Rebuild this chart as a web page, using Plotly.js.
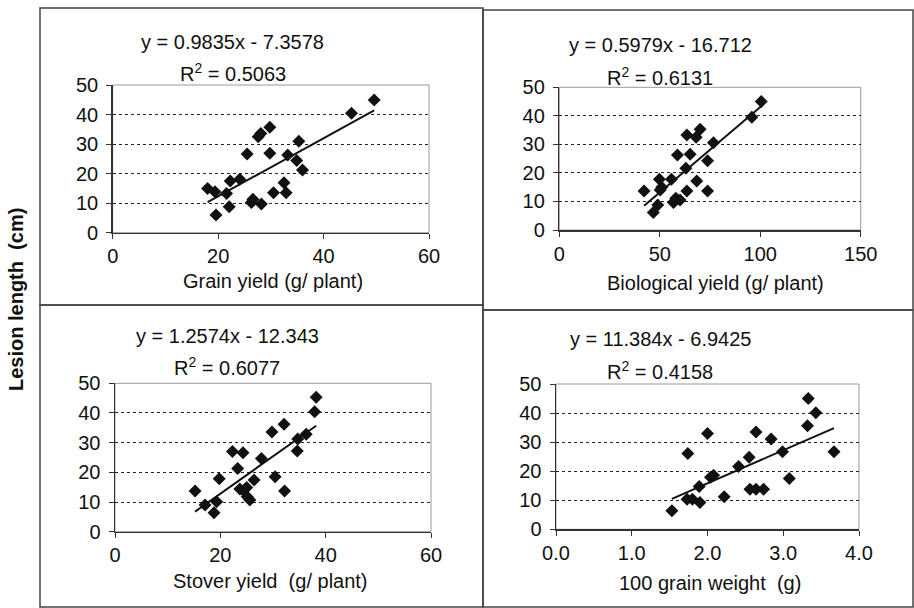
<!DOCTYPE html>
<html><head><meta charset="utf-8">
<script src="https://cdn.plot.ly/plotly-3.0.1.min.js"></script>
<style>html,body{margin:0;padding:0;background:#fff}#chart{width:914px;height:608px}</style>
</head><body><div id="chart"></div>
<script>
// Panel 1: Grain yield
const grainX = [18.0,19.4,19.6,21.6,22.3,22.1,24.1,25.5,26.6,26.3,27.6,28.1,28.2,29.8,29.8,30.5,32.5,32.9,33.2,34.9,35.3,36.0,45.3,49.6];
const grainY = [15.0,13.9,6.0,13.3,17.5,8.8,18.1,26.6,11.3,10.2,32.5,33.6,9.7,35.7,26.9,13.5,16.9,13.5,26.3,24.4,31.0,21.2,40.4,44.9];
// Panel 2: Biological yield
const bioX = [42.2,46.8,49.0,49.8,50.2,51.0,55.8,56.8,57.5,58.0,58.8,60.1,63.0,63.5,63.5,65.1,68.1,68.4,70.1,73.8,73.8,76.7,95.8,100.5];
const bioY = [13.7,6.1,8.8,17.8,14.0,15.0,17.8,9.6,10.2,11.1,26.3,10.5,21.6,13.7,33.3,26.5,32.5,17.2,35.3,13.7,24.3,30.6,39.5,45.0];
// Panel 3: Stover yield
const stoverX = [15.2,17.1,18.8,19.3,19.8,22.3,23.3,23.7,24.3,24.4,25.0,25.1,25.6,26.4,27.8,29.8,30.4,32.1,32.2,34.6,34.7,36.3,37.9,38.2];
const stoverY = [13.7,9.0,6.4,10.1,17.8,27.0,21.3,14.4,26.6,13.8,14.9,11.8,10.7,17.4,24.7,33.6,18.5,36.2,13.7,27.2,31.2,32.8,40.4,45.3];
// Panel 4: 100 grain weight
const gwX = [1.53,1.73,1.74,1.80,1.89,1.90,2.00,2.04,2.08,2.22,2.41,2.55,2.56,2.64,2.64,2.74,2.84,2.99,3.08,3.32,3.33,3.43,3.67];
const gwY = [6.4,10.3,26.1,10.3,14.7,9.2,33.0,17.9,18.6,11.2,21.6,24.8,13.8,13.8,33.5,13.8,31.1,26.7,17.5,35.6,45.0,40.1,26.7];

// Trendline coefficients as printed on the chart
const slopes = [0.9835, 0.5979, 1.2574, 11.384];
const intercepts = [-7.3578, -16.712, -12.343, -6.9425];
const eqTexts = ["y = 0.9835x - 7.3578","y = 0.5979x - 16.712","y = 1.2574x - 12.343","y = 11.384x - 6.9425"];
const r2Texts = ["R<sup>2</sup> = 0.5063","R<sup>2</sup> = 0.6131","R<sup>2</sup> = 0.6077","R<sup>2</sup> = 0.4158"];
const xTitles = ["Grain yield (g/ plant)","Biological yield (g/ plant)","Stover yield  (g/ plant)","100 grain weight  (g)"];
const yTitle = "Lesion length  (cm)";

const W = 914, H = 608;
const px = v => v / W, py = v => 1 - v / H;
const FONT = "Liberation Sans";

const sets = [[grainX,grainY],[bioX,bioY],[stoverX,stoverY],[gwX,gwY]];
const ranges = [[0,60],[0,150],[0,60],[0,4]];
const dticks = [20,50,20,1];
const fmts = ["d","d","d",".1f"];
const boxes = [ // plot areas in px: x0,x1,ytop,ybottom
  [112.7,429,85,232.7],
  [559.3,860.7,87.3,230],
  [115,431,383.3,531.7],
  [556,859,384,529.3]
];
const eqPos = [[233,42,72],[660,45,76],[227,336,366],[660,339,370]];
const xtPos = [[273,281],[715,283],[270,581],[710,583]];

const data = [], shapes = [], annotations = [];
const layout = {
  width: W, height: H, margin:{l:0,r:0,t:0,b:0},
  paper_bgcolor:"#fff", plot_bgcolor:"#fff", showlegend:false,
  font:{family:FONT, size:20, color:"#111"}
};

sets.forEach((s, i) => {
  const n = i + 1, xs = n === 1 ? "" : n;
  const xa = "x" + xs, ya = "y" + xs;
  data.push({x:s[0], y:s[1], type:"scatter", mode:"markers", xaxis:xa, yaxis:ya,
    marker:{symbol:"diamond", size:10, color:"#111"}, hoverinfo:"x+y"});
  const xmin = Math.min(...s[0]), xmax = Math.max(...s[0]);
  data.push({x:[xmin,xmax], y:[slopes[i]*xmin+intercepts[i], slopes[i]*xmax+intercepts[i]],
    type:"scatter", mode:"lines", xaxis:xa, yaxis:ya, line:{color:"#111", width:2}, hoverinfo:"skip"});
  const b = boxes[i];
  layout["xaxis" + xs] = {domain:[px(b[0]), px(b[1])], anchor:ya, range:ranges[i], dtick:dticks[i], tick0:0,
    tickformat:fmts[i], showgrid:false, zeroline:false, showline:true, linecolor:"#333", linewidth:1.5,
    ticks:"outside", ticklen:5, tickcolor:"#333", ticklabelstandoff:0,
    tickfont:{size:20, family:FONT, color:"#111"}, fixedrange:true};
  layout["yaxis" + xs] = {domain:[py(b[3]), py(b[2])], anchor:xa, range:[0,50], dtick:10, tick0:0,
    showgrid:true, gridcolor:"#222", griddash:"dot", gridwidth:1, zeroline:false, showline:true,
    linecolor:"#333", linewidth:1.5, ticks:"outside", ticklen:5, tickcolor:"#333", ticklabelstandoff:4,
    tickfont:{size:20, family:FONT, color:"#111"}, fixedrange:true};
  shapes.push({type:"rect", xref:xa + " domain", yref:ya + " domain", x0:0, x1:1, y0:0, y1:1,
    line:{color:"#999", width:1}, layer:"below"});
  const e = eqPos[i];
  annotations.push({xref:"paper", yref:"paper", x:px(e[0]), y:py(e[1]), text:eqTexts[i], showarrow:false,
    font:{size:20, family:FONT, color:"#111"}, xanchor:"center", yanchor:"middle"});
  annotations.push({xref:"paper", yref:"paper", x:px(e[0]), y:py(e[2]), text:r2Texts[i], showarrow:false,
    font:{size:20, family:FONT, color:"#111"}, xanchor:"center", yanchor:"middle"});
  const t = xtPos[i];
  annotations.push({xref:"paper", yref:"paper", x:px(t[0]), y:py(t[1]), text:xTitles[i], showarrow:false,
    font:{size:20, family:FONT, color:"#111"}, xanchor:"center", yanchor:"middle"});
});

annotations.push({xref:"paper", yref:"paper", x:px(16), y:py(300), text:"<b>" + yTitle + "</b>", textangle:-90,
  showarrow:false, font:{size:20, family:FONT, color:"#111"}, xanchor:"center", yanchor:"middle"});

// panel frames
const frames = [[40,483,8,305],[483,913,10,310],[40,483,305,607],[483,913,310,607]];
frames.forEach(f => shapes.push({type:"rect", xref:"paper", yref:"paper", x0:px(f[0]), x1:px(f[1]),
  y0:py(f[3]), y1:py(f[2]), line:{color:"#444", width:1.5}}));

layout.shapes = shapes;
layout.annotations = annotations;
Plotly.newPlot("chart", data, layout, {staticPlot:true, displayModeBar:false});
</script></body></html>
